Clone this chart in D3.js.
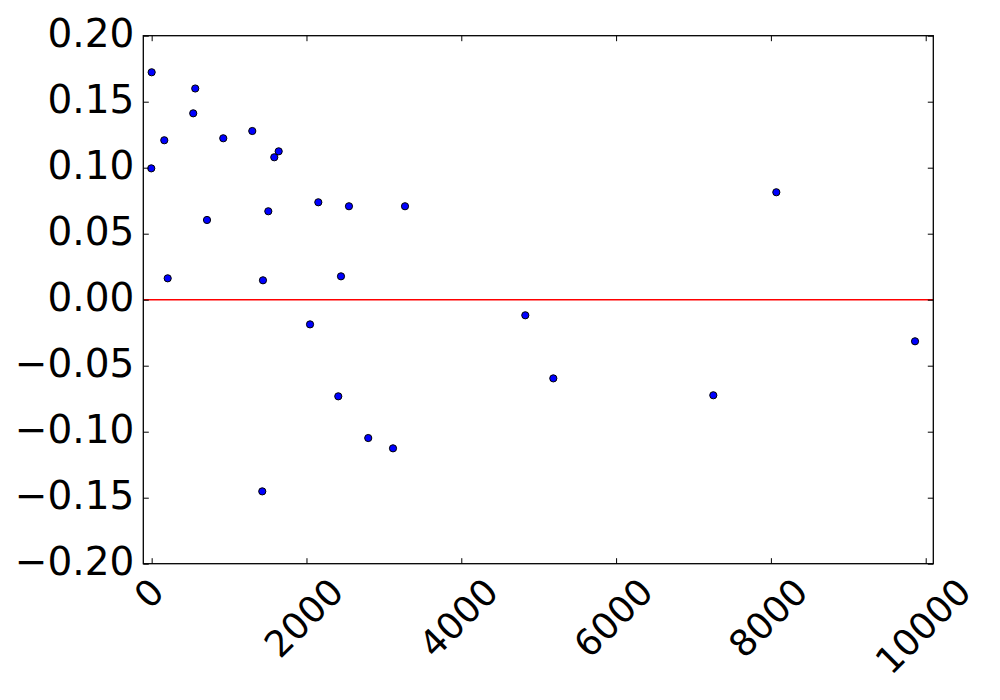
<!DOCTYPE html>
<html>
<head>
<meta charset="utf-8">
<script src="https://cdn.jsdelivr.net/npm/d3@7"></script>
<style>
  html, body { margin: 0; padding: 0; background: #fff; }
  svg { display: block; }
  text { font-family: "DejaVu Sans", sans-serif; }
</style>
</head>
<body>
<svg id="chart" width="1000" height="700"></svg>
<script>
// Data
const xValues = [0, 563, 537, 163, 925, 1300, 1584, 1641, -5, 2153, 2549, 3273, 715, 1507, 207, 1438, 2446,
                 2046, 2411, 2798, 3118, 1429, 4827, 5189, 7256, 8070, 9862];
const yValues = [0.1723, 0.160, 0.1412, 0.1208, 0.1223, 0.1278, 0.1079, 0.1124, 0.0995, 0.0738, 0.0708, 0.0708,
                 0.0604, 0.0670, 0.0162, 0.0147, 0.0177, -0.0187, -0.0732, -0.1048, -0.1126, -0.1452, -0.0118,
                 -0.0596, -0.0724, 0.0814, -0.0315];
const xTicks = [0, 2000, 4000, 6000, 8000, 10000];
const yTicks = [-0.20, -0.15, -0.10, -0.05, 0.00, 0.05, 0.10, 0.15, 0.20];
const xDomain = [-108, 10098];
const yDomain = [-0.2, 0.2];
const refLineY = 0;

const pLeft = 143.3, pRight = 933.3, pTop = 35.7, pBottom = 563.7;
const fsY = 39, fsX = 36.5;

const svg = d3.select("#chart");
const x = d3.scaleLinear().domain(xDomain).range([pLeft, pRight]);
const y = d3.scaleLinear().domain(yDomain).range([pBottom, pTop]);

// Reference line
svg.append("line")
  .attr("x1", pLeft).attr("x2", pRight)
  .attr("y1", y(refLineY)).attr("y2", y(refLineY))
  .attr("stroke", "#ff0000").attr("stroke-width", 1.5);

// Points
svg.append("g").selectAll("circle")
  .data(xValues.map((v, i) => [v, yValues[i]]))
  .join("circle")
  .attr("cx", d => x(d[0]))
  .attr("cy", d => y(d[1]))
  .attr("r", 3.6)
  .attr("fill", "#0000ff")
  .attr("stroke", "#000")
  .attr("stroke-width", 1);

// Axes
const tickLen = 5.5;
const gLeft = svg.append("g").attr("transform", `translate(${pLeft},0)`)
  .call(d3.axisLeft(y).tickValues(yTicks).tickFormat(d3.format(".2f")).tickSize(-tickLen).tickPadding(9));
const gRight = svg.append("g").attr("transform", `translate(${pRight},0)`)
  .call(d3.axisRight(y).tickValues(yTicks).tickFormat("").tickSize(-tickLen));
const gTop = svg.append("g").attr("transform", `translate(0,${pTop})`)
  .call(d3.axisTop(x).tickValues(xTicks).tickFormat("").tickSize(-tickLen));
const gBottom = svg.append("g").attr("transform", `translate(0,${pBottom})`)
  .call(d3.axisBottom(x).tickValues(xTicks).tickFormat(d3.format("d")).tickSize(-tickLen));

[gLeft, gRight, gTop, gBottom].forEach(g => {
  g.select(".domain").remove();
  g.selectAll(".tick line").attr("stroke", "#000").attr("stroke-width", 1);
  g.selectAll("text").attr("fill", "#000")
    .attr("font-family", "DejaVu Sans, sans-serif");
});

gLeft.selectAll("text").attr("font-size", fsY).attr("dy", "0.27em");

// Rotated x labels (45°)
gBottom.selectAll(".tick text").attr("font-size", fsX).each(function() {
  const t = d3.select(this);
  t.attr("text-anchor", "middle").attr("dy", null).attr("x", -3.5);
  const w = this.getComputedTextLength() - 0.13 * fsX;
  const h = 0.729 * fsX;
  const boxH = (w + h) / Math.SQRT2;
  const cy = 13.3 + boxH / 2;
  t.attr("y", cy).attr("dy", "0.36em")
   .attr("transform", `rotate(-45, -3.5, ${cy})`);
});

// Spines
svg.append("rect")
  .attr("x", pLeft).attr("y", pTop)
  .attr("width", pRight - pLeft).attr("height", pBottom - pTop)
  .attr("fill", "none").attr("stroke", "#000").attr("stroke-width", 1.3);
</script>
</body>
</html>
